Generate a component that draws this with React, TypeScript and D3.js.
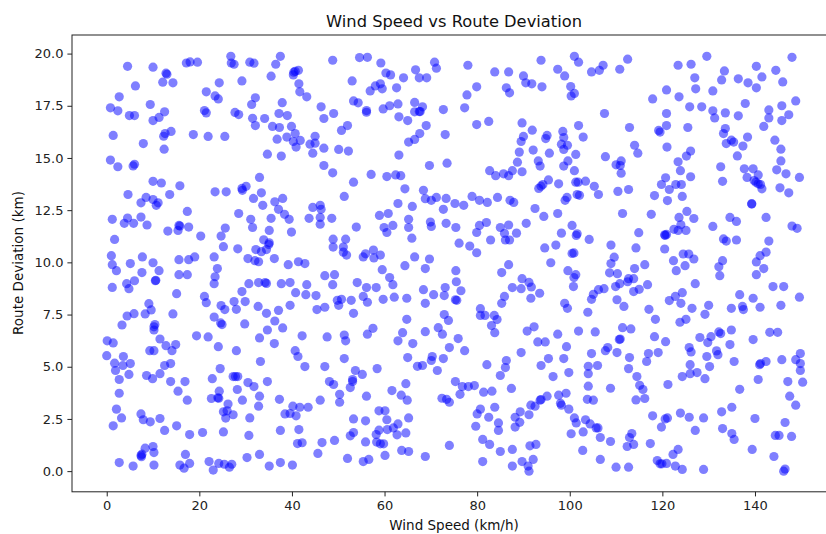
import { useEffect, useRef } from "react";
import * as d3 from "d3";

const xTicks = [0, 20, 40, 60, 80, 100, 120, 140];
const yTicks = [0, 2.5, 5, 7.5, 10, 12.5, 15, 17.5, 20];

// values, one line of windSpeed matches the same line of routeDeviation
const windSpeed = [
  4.5,10.0,12.8,13.0,12.1,14.3,6.2,2.7,0.8,2.4,
  4.9,6.0,9.4,12.5,11.3,10.0,1.4,7.9,12.4,13.9,
  12.6,12.3,18.7,21.9,25.5,0.8,2.4,6.0,5.7,17.2,
  18.0,19.6,26.8,26.9,27.5,30.9,31.8,37.5,36.5,35.5,
  29.2,24.3,21.5,23.4,24.1,32.1,31.3,37.9,21.1,21.5,
  27.7,28.5,37.2,39.0,31.5,34.1,32.1,35.8,37.3,39.9,
  40.7,36.8,38.9,40.3,41.8,40.9,45.0,43.9,45.0,46.9,
  44.5,34.7,37.7,46.9,41.4,40.4,40.7,40.3,41.5,41.7,
  43.2,46.3,46.9,33.0,
  10.0,11.8,15.8,4.6,8.5,7.4,10.0,11.1,10.7,13.6,
  17.4,1.2,4.5,3.8,5.8,7.4,8.7,13.2,15.4,15.8,
  15.6,17.7,20.3,1.7,1.0,1.2,2.1,5.1,7.7,10.0,
  7.6,11.3,10.5,10.6,6.0,4.3,4.8,1.2,15.6,17.7,
  19.0,15.6,17.4,15.1,9.1,9.6,8.3,5.9,4.4,3.3,
  14.3,10.4,10.2,10.2,21.1,21.5,23.2,23.9,23.4,23.2,
  25.2,24.7,25.6,23.4,25.8,29.2,29.3,30.1,31.7,33.4,
  33.7,36.3,38.0,37.1,38.4,39.4,28.5,31.1,31.5,35.5,
  35.1,39.9,43.7,44.5,46.1,46.3,46.1,46.1,28.3,32.2,
  33.9,35.1,35.0,34.5,33.4,30.5,32.0,32.8,36.2,39.2,
  41.4,42.8,47.1,30.7,32.8,34.2,34.5,37.7,39.6,43.2,
  29.2,29.9,27.5,28.0,24.7,25.5,23.2,24.6,24.9,29.8,
  32.7,34.5,37.1,39.6,36.3,38.0,34.7,40.8,43.0,45.2,
  45.4,47.1,
  19.4,21.9,33.0,42.2,47.6,0.1,1.4,11.5,12.8,14.9,
  14.1,9.3,10.2,24.1,28.0,36.2,40.7,41.3,42.8,47.1,
  0.0,3.6,1.7,3.5,5.1,1.9,4.8,2.7,13.8,12.5,
  11.5,8.6,9.9,13.8,16.9,15.4,17.4,2.7,24.5,22.8,
  33.2,27.3,27.8,28.3,30.5,31.8,34.7,28.2,24.3,33.0,
  29.3,22.6,24.0,24.2,37.3,26.2,25.2,26.0,27.3,25.7,
  32.8,30.9,2.1,3.2,7.4,7.9,9.4,11.5,1.4,12.5,
  15.1,17.9,20.7,25.2,30.7,37.5,41.5,38.5,39.6,40.2,
  40.9,41.7,43.5,46.1,41.2,42.2,46.5,45.6,10.0,8.3,
  10.2,7.6,7.4,7.5,2.7,5.7,10.2,17.0,17.9,15.8,
  16.7,22.1,23.0,24.2,25.4,26.5,27.0,30.3,33.0,35.1,
  37.5,40.1,
  48.8,54.6,56.3,59.2,53.0,60.3,61.3,64.1,58.0,59.1,
  59.5,56.9,62.6,66.7,67.5,69.1,70.8,71.2,78.0,83.8,
  86.8,90.0,90.5,91.8,94.0,93.8,97.4,98.9,79.9,77.8,
  77.3,86.3,87.0,53.3,54.3,56.1,56.1,59.7,61.1,62.9,
  63.1,65.0,66.5,68.2,66.5,67.5,67.7,72.7,52.0,50.7,
  49.0,69.0,67.6,66.5,65.2,73.1,63.1,50.1,52.2,48.8,
  69.7,73.5,57.1,60.5,62.4,63.5,79.9,82.5,89.7,91.9,
  90.0,89.5,95.1,94.8,98.5,98.7,98.2,99.5,98.7,89.1,
  92.1,95.6,88.7,93.2,93.6,99.6,98.7,82.7,84.0,85.7,
  86.8,87.6,89.7,95.4,
  53.3,64.4,68.4,68.8,70.1,71.2,73.3,51.3,62.9,66.0,
  75.2,77.1,78.9,80.5,82.2,84.4,87.1,87.9,93.3,93.8,
  94.2,97.6,99.0,99.4,92.5,94.4,97.4,72.7,58.9,60.8,
  48.6,53.9,65.2,65.2,61.8,59.9,60.5,65.9,69.9,70.1,
  73.3,75.4,76.1,78.4,79.9,82.0,80.5,79.9,82.9,85.0,
  86.8,85.9,86.1,87.0,88.5,90.6,98.2,94.6,97.0,95.9,
  48.9,51.6,48.9,51.1,51.1,51.8,55.9,55.4,57.6,59.1,
  57.7,66.5,69.7,64.4,68.8,59.5,86.8,85.3,75.4,
  49.2,48.8,54.1,61.1,61.8,56.1,58.2,68.4,73.1,75.5,
  76.5,70.6,72.9,55.4,56.3,59.7,62.1,64.8,52.8,49.8,
  50.7,50.1,53.3,68.8,75.3,75.6,89.7,87.6,89.5,
  91.2,91.7,85.9,85.3,91.6,93.5,99.6,98.9,99.5,80.7,
  80.7,81.7,83.7,84.3,83.1,72.9,73.8,64.8,57.5,71.6,
  92.3,
  51.3,51.6,56.3,63.9,68.8,72.5,75.9,83.8,90.8,97.4,
  93.1,94.7,62.9,66.1,74.0,77.3,99.3,89.5,65.0,51.3,
  70.3,70.1,72.7,67.1,68.2,95.4,98.7,93.8,86.3,86.1,
  82.1,58.4,53.7,55.2,71.4,99.8,85.0,96.4,53.1,53.1,
  48.1,49.0,52.6,64.6,61.6,63.6,50.3,56.1,64.9,50.3,
  75.3,76.8,78.1,79.4,76.3,87.4,81.4,83.2,72.4,73.4,
  74.0,97.6,99.2,95.1,93.6,93.8,92.5,91.6,98.0,98.2,
  99.8,83.8,80.7,80.0,82.5,89.3,88.2,91.2,84.6,84.6,
  89.2,88.2,79.7,58.8,60.1,53.3,55.9,60.5,65.2,62.9,
  61.9,60.6,58.8,58.2,62.7,64.6,53.3,52.6,55.9,49.2,
  58.3,59.1,59.8,74.0,81.2,82.7,85.0,87.6,91.4,92.7,
  100.3,63.7,65.2,60.1,68.8,52.0,55.4,56.6,81.2,87.6,
  89.7,92.1,91.0,91.2,
  101.0,101.9,104.7,106.4,107.2,110.8,112.5,100.2,100.3,101.0,
  107.5,101.9,112.9,102.9,101.3,101.0,107.7,114.0,114.7,110.0,
  111.1,110.9,111.1,121.0,120.9,120.9,119.2,119.5,125.5,117.9,
  120.9,123.6,123.4,126.2,129.6,127.0,127.2,125.9,128.5,130.9,
  132.8,133.4,136.4,138.5,140.3,141.5,140.3,144.5,146.0,148.0,
  137.9,130.9,131.3,133.6,136.4,143.0,143.0,145.8,148.8,147.3,
  145.8,141.9,133.6,133.2,134.9,135.4,133.8,138.4,137.4,136.2,
  144.3,145.6,145.6,132.6,144.7,146.7,149.6,126.1,125.2,123.4,
  123.9,126.1,120.7,137.7,139.6,140.7,138.3,
  101.3,101.8,103.4,105.3,106.2,101.6,102.1,110.4,112.7,119.8,
  121.5,122.9,124.1,118.3,124.3,121.1,133.0,139.8,140.2,140.7,
  141.2,141.5,145.4,147.3,139.3,139.3,111.4,117.6,125.3,123.6,
  126.8,134.6,136.0,142.4,130.9,148.0,149.1,124.0,122.5,123.4,
  125.1,120.6,120.9,120.5,114.9,100.5,101.6,101.4,104.2,108.9,
  114.3,120.5,124.5,125.7,126.8,122.4,123.0,124.9,133.2,133.8,
  136.0,143.0,142.4,141.1,140.3,141.9,140.3,133.0,132.2,132.4,
  100.9,100.5,109.6,108.9,116.2,114.0,108.6,110.3,113.8,112.7,
  112.5,110.8,109.9,116.8,115.0,113.8,107.4,106.2,105.1,104.7,
  101.3,100.9,100.8,110.2,111.7,103.9,117.1,118.5,121.5,122.8,
  124.3,124.0,126.4,127.1,129.2,130.0,125.1,123.8,136.7,139.6,
  134.9,137.3,137.5,141.1,143.9,146.2,149.6,145.6,111.4,113.2,
  101.9,105.5,134.9,
  110.7,110.9,118.3,120.7,128.1,129.8,130.5,132.6,132.2,139.6,
  143.2,144.9,134.6,125.8,126.2,131.7,132.0,129.6,135.5,130.2,
  126.0,124.3,126.0,127.5,129.2,117.0,116.6,119.1,112.9,110.2,
  107.7,108.2,104.7,106.0,104.0,104.0,112.7,114.5,115.1,115.8,
  104.0,108.8,121.2,114.3,116.2,103.8,105.1,141.0,141.2,142.4,
  145.8,148.8,149.8,149.8,149.8,150.3,147.1,140.7,136.7,147.5,
  148.8,135.0,132.8,123.9,125.8,128.9,117.9,120.6,121.1,119.8,
  101.0,101.4,103.4,104.4,105.7,106.1,102.9,106.6,108.8,113.4,
  112.9,113.8,112.4,117.4,127.1,133.0,135.0,135.5,140.0,146.5,
  144.4,145.2,147.9,102.8,106.6,110.0,112.7,123.4,122.3,118.9,
  119.5,119.9,120.9,122.8,124.3,128.9,139.4,144.1,146.5,146.2,
];

const routeDeviation = [
  19.39,19.35,19.06,19.01,18.63,18.6,18.45,17.93,17.4,17.26,
  17.03,17.03,17.56,17.21,16.94,16.79,16.08,15.69,15.42,16.27,
  16.17,16.04,16.12,16.03,16.03,14.9,14.58,14.7,14.62,19.55,
  19.6,19.59,19.87,19.55,19.49,19.59,19.54,19.87,19.49,18.92,
  18.69,18.6,18.17,17.97,17.83,17.88,17.56,17.65,17.27,17.16,
  17.18,17.08,17.13,17.03,16.9,16.89,16.55,16.51,16.46,16.51,
  16.17,15.9,16.0,15.79,15.84,15.52,16.04,15.66,15.71,15.47,
  15.23,15.18,15.09,14.64,19.2,19.11,19.15,18.98,18.55,18.17,
  17.93,17.45,16.89,14.07,
  13.88,13.8,13.67,13.25,13.11,12.85,13.01,12.85,12.73,13.25,
  12.44,12.06,12.12,11.87,11.87,12.17,11.79,11.5,11.53,11.74,
  11.77,11.69,11.26,11.1,10.32,9.89,9.6,9.94,10.26,9.98,
  9.51,9.6,9.12,9.14,9.12,8.98,8.74,8.8,10.13,10.13,
  10.26,9.41,9.41,8.5,8.02,7.72,7.53,7.54,7.43,7.0,
  7.53,7.02,6.91,6.76,8.37,8.07,10.26,9.7,9.31,8.98,
  10.75,11.26,11.64,13.38,13.38,13.54,13.45,13.64,13.06,13.33,
  12.73,12.9,13.06,12.54,12.3,12.06,12.34,12.06,11.67,12.11,
  11.53,11.45,12.11,12.63,12.73,12.54,12.15,11.83,10.65,10.61,
  11.08,10.94,10.85,10.61,10.51,10.18,10.08,10.03,10.18,9.89,
  10.03,9.94,9.36,8.98,9.03,9.03,8.99,8.98,9.03,8.93,
  8.6,8.12,8.12,7.75,7.93,7.74,7.38,7.1,7.02,7.05,
  7.89,7.56,7.7,7.94,7.19,6.86,6.76,8.55,8.45,8.41,
  7.74,7.85,
  6.48,6.43,6.38,6.48,6.43,6.24,6.14,6.33,6.01,6.06,
  5.77,5.77,5.77,5.96,5.77,6.11,5.77,5.49,5.01,5.01,
  5.53,5.49,5.17,5.06,5.15,4.82,4.63,4.39,5.15,5.06,
  4.67,4.58,4.43,4.29,4.29,3.83,3.4,3.73,4.91,4.43,
  5.25,4.53,4.53,4.53,4.24,4.05,4.29,3.91,3.83,3.59,
  3.4,3.48,3.51,3.49,3.44,3.21,2.84,2.89,2.7,2.54,
  3.11,2.55,2.97,2.55,2.74,2.46,2.36,2.52,2.17,1.95,
  2.17,1.75,1.85,1.88,1.71,1.95,1.99,2.74,2.76,3.11,
  2.65,3.06,3.06,3.4,1.32,1.36,1.37,0.85,1.18,1.1,
  0.89,0.81,0.75,0.69,0.41,0.24,0.29,0.8,0.37,0.29,
  0.14,0.46,0.05,0.37,0.33,0.19,0.33,0.65,0.8,0.24,
  0.41,0.29,
  19.68,19.81,19.82,19.55,18.69,19.07,18.98,18.84,18.45,18.55,
  18.31,18.21,18.36,19.22,18.84,18.84,19.59,19.3,19.44,19.12,
  19.12,18.93,18.6,18.55,18.41,19.68,19.25,18.93,18.41,18.02,
  17.4,18.36,18.12,17.73,17.64,17.27,17.19,17.35,17.5,17.59,
  16.97,16.79,17.66,17.45,17.21,17.22,17.22,17.32,16.55,16.32,
  17.13,16.55,16.17,15.89,15.76,16.12,15.14,15.41,15.33,14.29,
  14.64,14.75,14.21,14.11,14.19,14.15,16.6,16.75,16.68,16.33,
  16.03,15.79,16.08,15.93,16.27,15.98,15.66,15.61,15.41,15.28,
  15.38,15.23,14.8,14.86,14.61,14.86,14.61,14.39,14.15,14.24,
  14.15,14.39,14.34,13.95,
  13.84,13.52,13.45,13.05,12.97,13.11,13.06,13.16,12.82,12.68,
  12.82,12.73,13.16,12.97,12.87,13.11,12.97,12.87,13.54,13.65,
  13.73,13.76,12.97,13.11,12.58,12.2,12.34,12.54,12.25,12.34,
  12.11,11.69,12.06,11.67,11.77,11.67,11.43,11.16,11.93,11.72,
  11.87,11.67,10.92,10.78,10.46,11.91,11.77,11.43,11.07,11.67,
  11.79,11.39,11.07,11.07,11.4,11.87,11.4,10.69,10.83,9.98,
  11.11,11.11,10.73,10.73,10.49,10.35,10.41,10.26,10.59,10.35,
  10.21,10.26,10.16,9.84,9.7,9.65,9.89,9.51,9.6,
  9.41,8.93,9.03,9.27,8.93,8.79,8.79,8.69,8.79,9.07,
  8.64,8.45,8.41,8.37,8.09,8.23,8.33,8.28,8.18,8.18,
  8.23,7.94,7.56,8.04,8.21,8.18,9.22,8.79,8.74,
  9.04,8.82,8.37,8.04,8.28,8.52,9.6,8.04,7.8,7.78,
  7.46,7.46,7.46,7.26,6.97,7.5,7.22,7.27,6.84,6.87,
  6.91,
  6.52,6.24,6.56,6.63,6.68,6.56,6.35,6.63,6.71,6.56,
  6.19,6.19,6.24,6.11,5.92,5.77,5.96,5.68,5.44,5.39,
  5.49,5.3,5.39,5.02,5.06,5.39,5.39,5.06,5.3,4.96,
  5.1,4.91,4.82,4.63,4.82,4.72,4.58,4.53,4.39,4.29,
  4.29,4.15,4.0,4.19,3.86,3.64,3.68,3.59,3.4,3.3,
  4.29,4.05,4.05,4.1,3.68,3.96,3.78,3.83,3.49,3.44,
  3.3,3.64,3.73,3.59,3.4,3.43,3.11,3.16,3.25,3.16,
  2.97,3.06,2.97,2.74,2.58,2.84,2.58,2.7,2.31,1.95,
  2.34,2.11,2.15,2.89,2.89,2.5,2.41,2.46,2.55,2.26,
  2.07,1.99,1.96,1.75,1.74,1.83,1.85,1.69,1.4,1.47,
  1.39,1.31,1.31,1.23,1.52,1.28,0.94,1.04,1.21,1.28,
  1.79,0.99,0.94,0.75,0.7,0.61,0.46,0.56,0.46,0.24,
  0.46,0.56,0.24,0.0,
  19.87,19.59,19.12,19.2,19.44,19.25,19.73,18.42,17.97,18.09,
  17.13,16.55,16.46,16.0,15.17,14.39,15.06,15.61,15.23,14.67,
  14.86,14.64,14.27,15.52,17.13,16.55,16.32,16.24,16.46,17.83,
  18.26,17.93,19.44,19.49,19.87,18.84,18.31,17.45,17.45,18.21,
  18.74,19.17,18.79,18.6,19.39,18.88,18.36,19.2,18.64,19.82,
  17.61,17.26,16.92,17.16,17.02,17.3,16.92,17.5,17.73,17.07,
  16.79,16.51,16.41,16.17,15.85,15.76,15.69,16.0,15.57,15.1,
  15.85,15.42,14.86,14.58,14.43,14.24,14.07,15.33,15.09,14.82,
  14.39,14.1,14.05,14.48,14.48,14.19,14.07,
  13.84,13.84,13.89,13.64,13.25,13.25,13.21,13.4,13.49,13.73,
  13.49,13.73,13.73,13.2,13.16,12.96,13.88,13.92,13.84,13.76,
  13.73,13.52,13.57,13.33,12.81,12.79,12.34,12.3,12.44,12.15,
  12.1,12.15,11.96,12.15,11.72,11.74,11.63,11.8,11.58,11.53,
  11.53,11.29,11.34,11.32,11.42,11.77,11.37,11.29,11.1,10.83,
  10.69,10.64,10.4,10.4,10.16,10.08,9.6,9.84,11.12,11.02,
  11.07,11.02,10.49,10.32,10.02,9.7,9.41,10.08,9.79,9.36,
  10.45,10.43,10.25,9.94,9.89,9.7,9.5,9.46,9.22,9.22,
  9.07,8.98,8.84,8.93,8.71,8.6,8.74,8.69,8.47,8.23,
  9.41,9.27,8.84,8.21,7.89,7.61,7.75,7.27,8.17,8.37,
  8.55,8.04,7.8,8.98,7.51,7.94,7.27,7.13,8.45,8.28,
  7.8,7.89,7.74,7.85,8.84,8.84,8.33,7.94,6.87,6.81,
  6.71,6.67,6.76,
  6.3,6.33,6.44,6.2,6.4,6.16,6.44,6.59,6.67,6.3,
  6.65,6.65,6.06,5.92,5.71,5.76,5.58,5.49,5.25,5.01,
  5.1,4.53,4.67,4.72,4.43,5.63,5.25,5.68,5.44,5.68,
  5.77,5.92,5.63,5.06,5.02,4.67,4.91,4.53,4.11,3.91,
  4.07,3.97,4.15,3.41,3.48,3.44,3.4,5.1,5.15,5.25,
  5.34,5.34,5.63,5.15,4.82,4.26,4.29,4.39,3.92,3.59,
  3.16,3.06,2.84,2.78,2.58,2.55,2.65,2.5,2.55,2.11,
  2.55,2.31,2.46,2.26,2.07,2.07,1.88,1.61,1.42,1.8,
  1.61,1.28,1.18,1.32,1.95,2.04,1.8,1.52,2.52,2.33,
  1.71,1.71,1.66,0.99,0.56,0.19,0.19,1.04,0.8,0.51,
  0.35,0.35,0.37,0.24,0.08,0.08,1.04,0.7,0.1,0.0,
];

const width = 826;
const height = 534;

export default function App() {
  const ref = useRef<SVGSVGElement | null>(null);

  useEffect(() => {
    const svg = d3.select(ref.current);
    svg.selectAll("*").remove();

    // the right edge of the axes falls outside the picture
    const x = d3.scaleLinear().domain([-7.5, 157.5]).range([72, 836]);
    const y = d3.scaleLinear().domain([-0.99, 20.89]).range([491.8, 35]);

    const points = d3.range(windSpeed.length);
    svg
      .append("g")
      .selectAll("circle")
      .data(points)
      .join("circle")
      .attr("cx", (i) => x(windSpeed[i]))
      .attr("cy", (i) => y(routeDeviation[i]))
      .attr("r", 4.6)
      .attr("fill", "blue")
      .attr("fill-opacity", 0.5);

    svg
      .append("rect")
      .attr("x", x.range()[0])
      .attr("y", y.range()[1])
      .attr("width", x.range()[1] - x.range()[0])
      .attr("height", y.range()[0] - y.range()[1])
      .attr("fill", "none")
      .attr("stroke", "#222")
      .attr("stroke-width", 1);

    const xAxis = svg
      .append("g")
      .attr("transform", `translate(0,${y.range()[0]})`)
      .call(
        d3.axisBottom(x).tickValues(xTicks).tickSize(4.6).tickPadding(4).tickFormat(d3.format("d")),
      );
    const yAxis = svg
      .append("g")
      .attr("transform", `translate(${x.range()[0]},0)`)
      .call(
        d3.axisLeft(y).tickValues(yTicks).tickSize(4.6).tickPadding(4).tickFormat(d3.format(".1f")),
      );
    [xAxis, yAxis].forEach((a) => {
      a.select(".domain").remove();
      a.selectAll("line").attr("stroke", "#222");
      a.selectAll("text")
        .attr("fill", "#222")
        .style("font-family", "DejaVu Sans")
        .style("font-size", "13px");
    });

    const label = (text: string, px: number, py: number, size: number, rotate = 0) =>
      svg
        .append("text")
        .attr("transform", `translate(${px},${py}) rotate(${rotate})`)
        .attr("text-anchor", "middle")
        .attr("fill", "#111")
        .style("font-family", "DejaVu Sans")
        .style("font-size", `${size}px`)
        .text(text);

    label("Wind Speed vs Route Deviation", 454, 27, 16.3);
    label("Wind Speed (km/h)", 454, 530, 13.5);
    label("Route Deviation (km)", 23, 263, 13.5, -90);
  }, []);

  return (
    <svg
      ref={ref}
      width={width}
      height={height}
      style={{ position: "absolute", left: 0, top: 0, background: "#fff" }}
    />
  );
}
